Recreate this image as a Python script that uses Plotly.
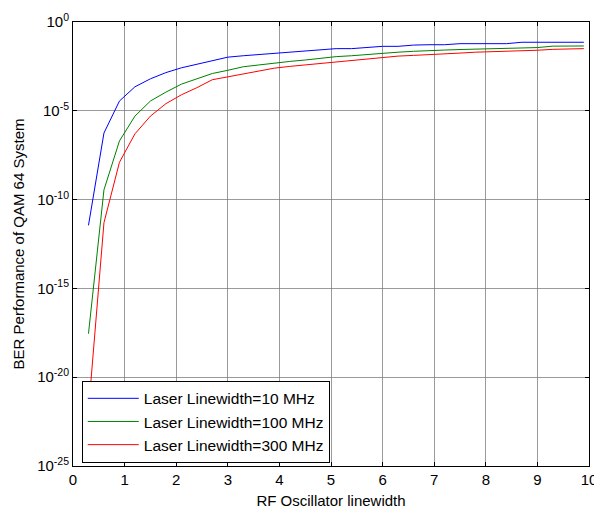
import plotly.graph_objects as go

# RF oscillator linewidth (x)
rf_linewidth = [0.3, 0.6, 0.9, 1.2, 1.5, 1.8, 2.1, 2.4, 2.7, 3.0, 3.3, 3.6, 3.9, 4.2, 4.5,
                4.8, 5.1, 5.4, 5.7, 6.0, 6.3, 6.6, 6.9, 7.2, 7.5, 7.8, 8.1, 8.4, 8.7, 9.0,
                9.3, 9.6, 9.9]

# BER, as log10 exponents
ber_log10_10mhz = [-11.45, -6.25, -4.45, -3.65, -3.2, -2.85, -2.58, -2.38, -2.15, -1.98,
                   -1.9, -1.83, -1.76, -1.70, -1.64, -1.57, -1.50, -1.50, -1.42, -1.37,
                   -1.37, -1.30, -1.28, -1.28, -1.22, -1.22, -1.22, -1.22, -1.14, -1.14,
                   -1.14, -1.14, -1.14]
ber_log10_100mhz = [-17.55, -9.45, -6.7, -5.3, -4.45, -3.95, -3.5, -3.2, -2.9, -2.72,
                    -2.52, -2.42, -2.3, -2.22, -2.14, -2.03, -1.95, -1.9, -1.82, -1.75,
                    -1.70, -1.65, -1.60, -1.58, -1.55, -1.52, -1.49, -1.47, -1.45, -1.44,
                    -1.36, -1.35, -1.35]
ber_log10_300mhz = [-21.9, -11.3, -7.9, -6.3, -5.3, -4.6, -4.1, -3.7, -3.25, -3.08,
                    -2.92, -2.75, -2.6, -2.5, -2.42, -2.3, -2.23, -2.17, -2.08, -1.98,
                    -1.92, -1.88, -1.85, -1.80, -1.75, -1.70, -1.68, -1.65, -1.62, -1.59,
                    -1.54, -1.50, -1.50]

series_names = ["Laser Linewidth=10 MHz", "Laser Linewidth=100 MHz", "Laser Linewidth=300 MHz"]
series_colors = ["#0000FF", "#008000", "#FF0000"]

x_ticks = [0, 1, 2, 3, 4, 5, 6, 7, 8, 9, 10]
y_tick_exps = [0, -5, -10, -15, -20, -25]

fig = go.Figure()
for name, color, logs in zip(series_names, series_colors,
                             [ber_log10_10mhz, ber_log10_100mhz, ber_log10_300mhz]):
    fig.add_trace(go.Scatter(
        x=rf_linewidth, y=[10 ** v for v in logs], mode="lines", name=name,
        line=dict(color=color, width=1)))

font_family = "Liberation Sans, Arial, sans-serif"
grid_color = "rgba(120,120,120,0.75)"

fig.update_layout(
    width=594, height=510,
    margin=dict(l=73, r=5, t=22, b=44, autoexpand=False),
    paper_bgcolor="white", plot_bgcolor="white",
    font=dict(family=font_family, size=15, color="black"),
    showlegend=True,
    legend=dict(
        x=0.017, y=0.192, xanchor="left", yanchor="top",
        bgcolor="white", bordercolor="black", borderwidth=1,
        font=dict(size=15.5, family=font_family),
        itemwidth=51,
    ),
    xaxis=dict(
        range=[0, 10], tickvals=x_ticks, ticktext=[str(t) for t in x_ticks],
        showline=True, linecolor="black", linewidth=1, mirror="ticks",
        ticks="inside", ticklen=4, tickcolor="black",
        showgrid=True, gridcolor=grid_color, gridwidth=1,
        zeroline=False, automargin=False, ticklabeloverflow="allow",
        title=dict(text="RF Oscillator linewidth", standoff=8, font=dict(size=15)),
    ),
    yaxis=dict(
        type="log", range=[-25, 0],
        tickvals=[10 ** e for e in y_tick_exps],
        ticktext=["10<sup>%d</sup>" % e for e in y_tick_exps],
        showline=True, linecolor="black", linewidth=1, mirror="ticks",
        ticks="inside", ticklen=4, tickcolor="black",
        showgrid=True, gridcolor=grid_color, gridwidth=1,
        zeroline=False, automargin=False, ticklabeloverflow="allow",
        title=dict(text="BER Performance of QAM 64 System", standoff=8, font=dict(size=15)),
    ),
)

fig.write_html("out.html", config={"displayModeBar": False},
               post_script="document.body.style.margin='0px';")
